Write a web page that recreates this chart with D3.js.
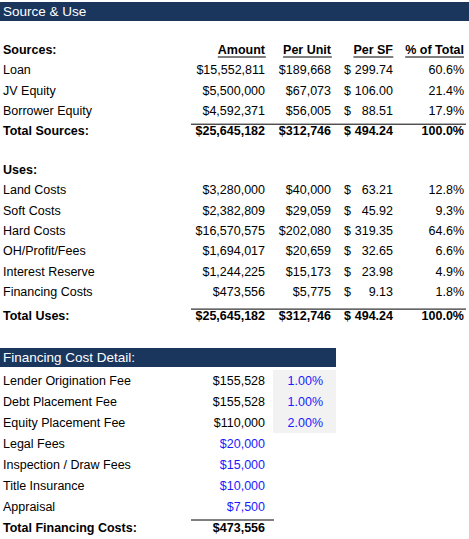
<!DOCTYPE html>
<head>
<meta charset="utf-8">
<script src="https://d3js.org/d3.v7.min.js"></script>
<style>
  body { margin: 0; background: white; }
  text { font-family: "Liberation Sans", sans-serif; font-size: 12.5px; fill: #000; }
  .b { font-weight: bold; }
</style>
</head>
<body>
<script>
// data
var colHeads = ["Amount", "Per Unit", "Per SF", "% of Total"];
var srcNames = ["Loan", "JV Equity", "Borrower Equity"];
var srcAmount = [15552811, 5500000, 4592371];
var srcUnit = [189668, 67073, 56005];
var srcSF = [299.74, 106.00, 88.51];
var srcPct = [60.6, 21.4, 17.9];
var srcTotal = [25645182, 312746, 494.24, 100.0];

var useNames = ["Land Costs", "Soft Costs", "Hard Costs", "OH/Profit/Fees", "Interest Reserve", "Financing Costs"];
var useAmount = [3280000, 2382809, 16570575, 1694017, 1244225, 473556];
var useUnit = [40000, 29059, 202080, 20659, 15173, 5775];
var useSF = [63.21, 45.92, 319.35, 32.65, 23.98, 9.13];
var usePct = [12.8, 9.3, 64.6, 6.6, 4.9, 1.8];
var useTotal = [25645182, 312746, 494.24, 100.0];

var finNames = ["Lender Origination Fee", "Debt Placement Fee", "Equity Placement Fee", "Legal Fees", "Inspection / Draw Fees", "Title Insurance", "Appraisal"];
var finAmount = [155528, 155528, 110000, 20000, 15000, 10000, 7500];
var finRate = [1.00, 1.00, 2.00];
var finTotal = 473556;

var w = 469, h = 539;
var navy = "#1b365d", blue = "#1a1aff";
var money = function(v) { return "$" + d3.format(",")(v); };
var pct1 = d3.format(".1f"), pct2 = d3.format(".2f"), sf = d3.format(".2f");

var svg = d3.select("body").append("svg").attr("width", w).attr("height", h);

// column right edges
var colX = d3.scaleOrdinal().domain(colHeads).range([265, 331, 393, 464]);
var sfDollarX = 344;

function bar(y, width, label) {
  svg.append("rect").attr("x", 0).attr("y", y).attr("width", width).attr("height", 19).attr("fill", navy);
  svg.append("text").attr("x", 3).attr("y", y + 14).style("fill", "white").style("font-size", "13.5px").text(label);
}

function line(x1, x2, y) {
  svg.append("line").attr("x1", x1).attr("x2", x2).attr("y1", y).attr("y2", y).attr("stroke", "#000").attr("stroke-width", 1);
}

function sfCell(y, v, bold) {
  svg.append("text").attr("x", sfDollarX).attr("y", y).attr("class", bold ? "b" : null).text("$");
  svg.append("text").attr("x", colX("Per SF")).attr("y", y).attr("text-anchor", "end").attr("class", bold ? "b" : null).text(sf(v));
}

function section(title, yTop, names, amt, unit, sfv, pct, total, totalLabel) {
  var y = d3.scaleLinear().domain([0, 1]).range([yTop, yTop + 20.3]);
  svg.append("text").attr("x", 3).attr("y", y(0)).attr("class", "b").text(title);
  if (title === "Sources:") {
    colHeads.forEach(function(c) {
      var t = svg.append("text").attr("x", colX(c)).attr("y", y(0)).attr("text-anchor", "end").attr("class", "b").text(c);
      var bb = t.node().getBBox();
      line(bb.x, bb.x + bb.width, y(0) + 3);
    });
  }
  names.forEach(function(n, i) {
    var yy = y(i + 1);
    svg.append("text").attr("x", 3).attr("y", yy).text(n);
    svg.append("text").attr("x", colX("Amount")).attr("y", yy).attr("text-anchor", "end").text(money(amt[i]));
    svg.append("text").attr("x", colX("Per Unit")).attr("y", yy).attr("text-anchor", "end").text(money(unit[i]));
    sfCell(yy, sfv[i], false);
    svg.append("text").attr("x", colX("% of Total")).attr("y", yy).attr("text-anchor", "end").text(pct1(pct[i]) + "%");
  });
  var ty = y(names.length + 1) + (names.length > 3 ? 4 : 0);
  line(191, 466, ty - 11);
  svg.append("text").attr("x", 3).attr("y", ty).attr("class", "b").text(totalLabel);
  svg.append("text").attr("x", colX("Amount")).attr("y", ty).attr("text-anchor", "end").attr("class", "b").text(money(total[0]));
  svg.append("text").attr("x", colX("Per Unit")).attr("y", ty).attr("text-anchor", "end").attr("class", "b").text(money(total[1]));
  sfCell(ty, total[2], true);
  svg.append("text").attr("x", colX("% of Total")).attr("y", ty).attr("text-anchor", "end").attr("class", "b").text(pct1(total[3]) + "%");
}

bar(2, 469, "Source & Use");
section("Sources:", 54, srcNames, srcAmount, srcUnit, srcSF, srcPct, srcTotal, "Total Sources:");
section("Uses:", 174, useNames, useAmount, useUnit, useSF, usePct, useTotal, "Total Uses:");

// financing cost detail
bar(348, 336, "Financing Cost Detail:");
var fy = d3.scaleLinear().domain([0, 1]).range([385, 406]);
svg.append("rect").attr("x", 273).attr("y", fy(0) - 15).attr("width", 63).attr("height", 63).attr("fill", "#f2f2f2");
finNames.forEach(function(n, i) {
  svg.append("text").attr("x", 3).attr("y", fy(i)).text(n);
  svg.append("text").attr("x", 265).attr("y", fy(i)).attr("text-anchor", "end")
    .style("fill", i < finRate.length ? "#000" : blue).text(money(finAmount[i]));
  if (i < finRate.length)
    svg.append("text").attr("x", 323).attr("y", fy(i)).attr("text-anchor", "end").style("fill", blue).text(pct2(finRate[i]) + "%");
});
var fty = fy(finNames.length);
line(191, 274, fty - 12);
svg.append("text").attr("x", 3).attr("y", fty).attr("class", "b").text("Total Financing Costs:");
svg.append("text").attr("x", 265).attr("y", fty).attr("text-anchor", "end").attr("class", "b").text(money(finTotal));
</script>
</body>
